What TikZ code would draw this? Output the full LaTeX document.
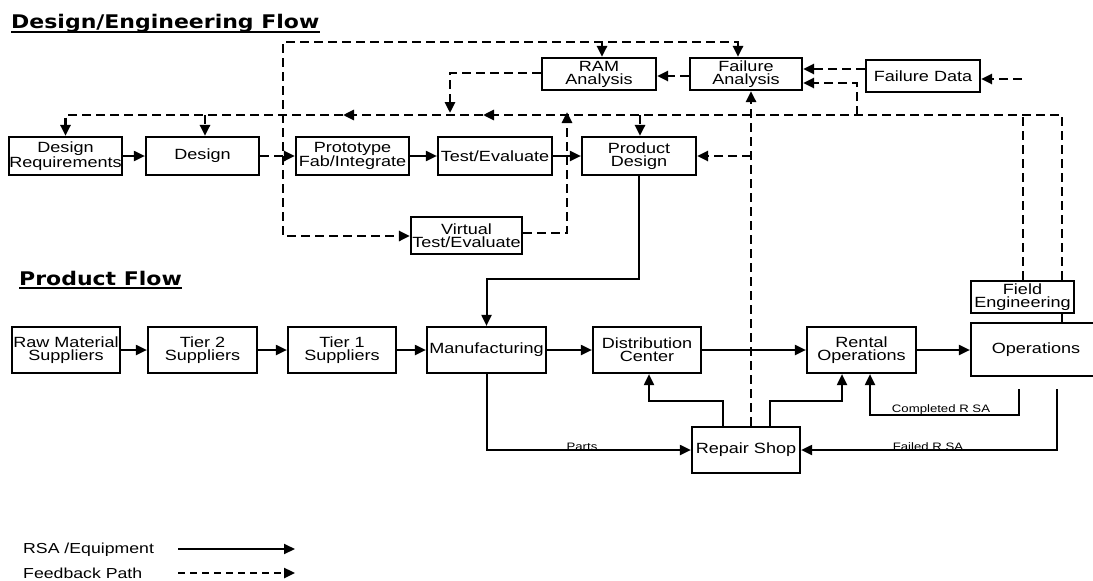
\documentclass[tikz,border=0pt]{standalone}
\usepackage{fontspec}
\usetikzlibrary{arrows.meta}
\newfontfamily\boxfont[FakeStretch=1.22]{Liberation Sans}
\newfontfamily\ttlfont[FakeStretch=1.17]{DejaVu Sans}
\tikzset{
  Tri/.tip={Triangle[length=11pt,width=10pt]},
  box/.style={draw, line width=2.2pt, inner sep=0pt, align=center, font=\fontsize{14.8}{13}\selectfont\boxfont},
  flow/.style={line width=2pt, -{Tri}},
  fb/.style={line width=2.7pt, dash pattern=on 9pt off 5pt, -{Tri}},
  lbl/.style={font=\fontsize{10.8}{12}\selectfont\boxfont, inner sep=0pt, anchor=base},
  legtxt/.style={font=\fontsize{14.5}{16}\selectfont\boxfont, inner sep=0pt, anchor=base west},
  ttl/.style={font=\fontsize{18.8}{20}\selectfont\ttlfont\bfseries, inner sep=0pt, anchor=base west},
}
\begin{document}
\begin{tikzpicture}[x=1pt,y=-1pt]
\useasboundingbox (0,0) rectangle (1093,581);
\fill[white] (0,0) rectangle (1093,581);

% titles
\node[ttl] (ttlA) at (11,28) {Design/Engineering Flow};
\draw[line width=2.2pt] ([yshift=-4pt]ttlA.base west) -- ([yshift=-4pt]ttlA.base east);
\node[ttl] (ttlB) at (19,285) {Product Flow};
\draw[line width=2.2pt] ([yshift=-3pt]ttlB.base west) -- ([yshift=-3pt]ttlB.base east);

% design/engineering boxes
\node[box, minimum width=113pt, minimum height=38pt] (DR) at (65.5,156) {Design\\Requirements};
\node[box, minimum width=113pt, minimum height=38pt] (DES) at (202.5,156) {Design};
\node[box, minimum width=113pt, minimum height=38pt] (PROTO) at (352.5,156) {Prototype\\Fab/Integrate};
\node[box, minimum width=114pt, minimum height=38pt] (TEST) at (495,156) {Test/Evaluate};
\node[box, minimum width=114pt, minimum height=38pt] (PD) at (639,156) {Product\\Design};
\node[box, minimum width=111pt, minimum height=37pt] (VT) at (466.5,235.5) {Virtual\\Test/Evaluate};
\node[box, minimum width=114pt, minimum height=32pt] (RAM) at (599,74) {RAM\\Analysis};
\node[box, minimum width=112pt, minimum height=32pt] (FA) at (746,74) {Failure\\Analysis};
\node[box, minimum width=114pt, minimum height=32pt] (FD) at (923,76) {Failure Data};
\node[box, minimum width=103pt, minimum height=32pt] (FE) at (1022.5,297) {Field\\Engineering};

% product flow boxes
\node[box, minimum width=108pt, minimum height=46pt] (RM) at (66,350) {Raw Material\\Suppliers};
\node[box, minimum width=109pt, minimum height=46pt] (T2) at (202.5,350) {Tier 2\\Suppliers};
\node[box, minimum width=108pt, minimum height=46pt] (T1) at (342,350) {Tier 1\\Suppliers};
\node[box, minimum width=119pt, minimum height=46pt] (MAN) at (486.5,350) {Manufacturing};
\node[box, minimum width=108pt, minimum height=46pt] (DC) at (647,350) {Distribution\\Center};
\node[box, minimum width=109pt, minimum height=46pt] (RO) at (861.5,350) {Rental\\Operations};
\node[box, minimum width=130pt, minimum height=53pt] (OPS) at (1036,349.5) {Operations};
\node[box, minimum width=108pt, minimum height=46pt] (RS) at (746,450) {Repair Shop};

% free ends
\coordinate (cpl) at (1019,389);
\coordinate (fld) at (1057,389);
\coordinate (fdi) at (1022,79);

% solid connectors
\draw[flow] (DR) -- (DES);
\draw[flow] (PROTO) -- (TEST);
\draw[flow] (TEST) -- (PD);
\draw[flow] (PD.south) |- (486.5,279) -- (MAN.north);
\draw[flow] (RM) -- (T2);
\draw[flow] (T2) -- (T1);
\draw[flow] (T1) -- (MAN);
\draw[flow] (MAN) -- (DC);
\draw[flow] (DC) -- (RO);
\draw[flow] (RO.east) -- (RO.east -| OPS.west);
\draw[flow] (MAN.south) |- (RS.west);
\draw[flow] (RS.north -| 723,0) |- (649,401) -- (DC.south -| 649,0);
\draw[flow] (RS.north -| 770,0) |- (842,401) -- (RO.south -| 842,0);
\draw[flow] (cpl) |- (870,415) -- (RO.south -| 870,0);
\draw[flow] (fld) |- (RS.east);
\draw[line width=2pt] (FE.south -| 1062,0) -- (OPS.north -| 1062,0);

% labels
\node[lbl] (lparts) at (582,450) {Parts};
\node[lbl] (lcpl) at (941,412.5) {Completed R SA};
\node[lbl] (lfld) at (928,450) {Failed R SA};

% feedback connectors
\draw[fb] (DES) -- (PROTO);
\draw[fb,{Tri}-{Tri}] (FA.north -| 738,0) |- (283,42) |- (VT.west |- 0,236);
\draw[fb] (602,42) -- (RAM.north -| 602,0);
\draw[fb] (FA.west |- 0,76) -- (RAM.east |- 0,76);
\draw[fb] (RAM.west |- 0,73) -| (450,113);
\draw[fb] (FE.north -| 1062,0) |- (483,115);
\draw[fb] (483,115) -- (343,115);
\draw[fb] (343,115) -| (DR.north);
\draw[fb] (205,115) -- (DES.north -| 205,0);
\draw[fb] (640,115) -- (PD.north -| 640,0);
\draw[fb,-] (FE.north -| 1023,0) -- (1023,115);
\draw[fb] (857,115) |- (FA.east |- 0,83);
\draw[fb] (FD.west |- 0,69) -- (FA.east |- 0,69);
\draw[fb] (fdi) -- (FD.east |- fdi);
\draw[fb] (VT.east |- 0,233) -| (567,112);
\draw[fb] (RS.north -| 751,0) -- (FA.south -| 751,0);
\draw[fb] (751,156) -- (PD.east);

% legend
\node[legtxt] (leg1) at (23,553) {RSA /Equipment};
\node[legtxt] (leg2) at (23,578) {Feedback Path};
\coordinate (leg1a) at (178,549);
\coordinate (leg1b) at (295,549);
\coordinate (leg2a) at (178,573);
\coordinate (leg2b) at (295,573);
\draw[flow] (leg1a) -- (leg1b);
\draw[fb, line width=2.4pt, dash pattern=on 7pt off 5pt] (leg2a) -- (leg2b);
\end{tikzpicture}
\end{document}
